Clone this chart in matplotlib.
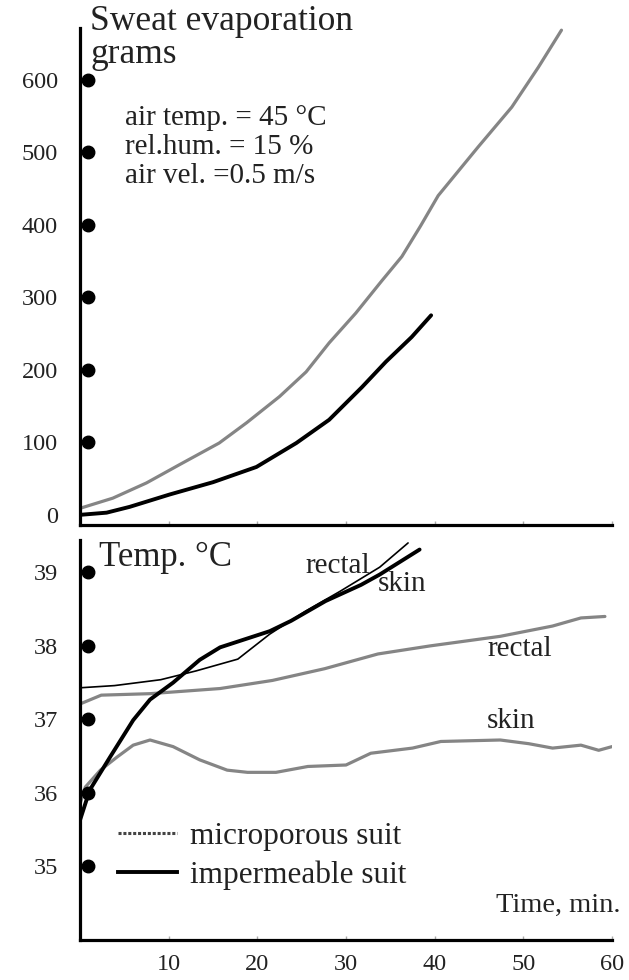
import matplotlib
matplotlib.use("Agg")
import matplotlib.pyplot as plt
from matplotlib.lines import Line2D
import numpy as np

plt.rcParams['font.family'] = ['Liberation Serif', 'DejaVu Serif']

# ---- data: sweat evaporation (grams) ----
t_sweat_micro = [0, 3.7, 7.5, 11.2, 15.7, 18.8, 22.5, 25.5, 28.1, 31.1, 34.0, 36.3, 38.4, 40.4, 44.9, 48.7, 51.7, 54.3]
sweat_micro = [9, 23, 44, 69, 99, 127, 163, 197, 237, 278, 322, 356, 398, 440, 507, 562, 617, 668]
t_sweat_imp = [0, 3, 5.6, 10.1, 15, 19.9, 24.4, 28.1, 31.8, 34.5, 37.4, 39.6]
sweat_imp = [0, 3, 11, 28, 45, 66, 99, 131, 176, 211, 245, 275]

# ---- data: temperatures (deg C) ----
t_rectal_micro = [0, 2.4, 7.9, 15.8, 21.7, 27.6, 33.6, 39.5, 47.4, 53.3, 56.5, 59.2]
rectal_micro = [37.21, 37.33, 37.35, 37.42, 37.53, 37.69, 37.89, 38.00, 38.13, 38.27, 38.38, 38.40]
t_skin_micro = [0, 0.6, 2.3, 4.2, 6.0, 7.9, 10.5, 13.5, 16.6, 18.9, 22.1, 25.7, 30.0, 32.8,
                37.5, 40.7, 47.4, 50.6, 53.3, 56.5, 58.5, 60]
skin_micro = [35.85, 36.08, 36.31, 36.49, 36.65, 36.72, 36.63, 36.45, 36.31, 36.28, 36.28, 36.36,
              36.38, 36.54, 36.61, 36.70, 36.72, 36.67, 36.61, 36.65, 36.58, 36.63]
t_rectal_imp = [0, 3.9, 9.1, 13.1, 17.8, 21.4, 25.4, 29.3, 33.8, 37.0]
rectal_imp = [37.43, 37.46, 37.54, 37.66, 37.82, 38.16, 38.47, 38.74, 39.07, 39.40]
t_skin_imp = [0, 1.1, 3.4, 6.0, 7.9, 10.5, 13.5, 15.8, 21.4, 23.8, 27.7, 31.7, 33.8, 38.3]
skin_imp = [35.63, 36.04, 36.49, 36.99, 37.27, 37.50, 37.81, 37.98, 38.20, 38.34, 38.61, 38.83, 38.97, 39.31]

x_ticks = [10, 20, 30, 40, 50, 60]
sweat_ticks = [0, 100, 200, 300, 400, 500, 600]
sweat_dots = [100, 200, 300, 400, 500, 600]
temp_ticks = [35, 36, 37, 38, 39]

GRAY = '#858585'
TXT = '#222222'
W, H = 629, 980

fig = plt.figure(figsize=(6.29, 9.8), dpi=100)
ax1 = fig.add_axes([80 / W, 1 - 525 / H, 532 / W, 497 / H])
ax2 = fig.add_axes([80 / W, 1 - 940 / H, 532 / W, 400 / H])

for ax in (ax1, ax2):
    for s in ('top', 'right'):
        ax.spines[s].set_visible(False)
    for s in ('left', 'bottom'):
        ax.spines[s].set_linewidth(2.3)
        ax.spines[s].set_color('black')
    ax.set_xlim(0, 60)
    ax.set_xticks(x_ticks)
    ax.tick_params(axis='x', direction='in', length=3, width=1, color='#aaaaaa')
    ax.tick_params(axis='y', length=0, pad=16, labelsize=17.5, labelcolor=TXT)

# top panel
ax1.set_ylim(-14, 671)
ax1.set_yticks(sweat_ticks)
ax1.set_xticklabels([])
ax1.plot(t_sweat_micro, sweat_micro, color=GRAY, lw=2.3, solid_capstyle='round', solid_joinstyle='round')
ax1.plot(t_sweat_imp, sweat_imp, color='black', lw=2.8, solid_capstyle='round', solid_joinstyle='round')
ax1.plot(np.full(len(sweat_dots), 0.015), sweat_dots, 'o', ms=9, color='black',
         transform=ax1.get_yaxis_transform(), clip_on=False)

# bottom panel
ax2.set_ylim(34.0, 39.44)
ax2.set_yticks(temp_ticks)
ax2.tick_params(axis='x', labelsize=17.5, labelcolor=TXT, pad=10)
ax2.plot(t_rectal_micro, rectal_micro, color=GRAY, lw=2.3, solid_capstyle='round', solid_joinstyle='round')
ax2.plot(t_skin_micro, skin_micro, color=GRAY, lw=2.3, solid_capstyle='round', solid_joinstyle='round')
ax2.plot(t_rectal_imp, rectal_imp, color='black', lw=1.2, solid_capstyle='round', solid_joinstyle='round')
ax2.plot(t_skin_imp, skin_imp, color='black', lw=2.8, solid_capstyle='round', solid_joinstyle='round')
ax2.plot(np.full(len(temp_ticks), 0.015), temp_ticks, 'o', ms=9, color='black',
         transform=ax2.get_yaxis_transform(), clip_on=False)

def ftext(px, py, s, size, **kw):
    fig.text(px / W, 1 - py / H, s, fontsize=size, color=TXT, va='baseline', **kw)

ftext(90, 30, 'Sweat evaporation', 25.5)
ftext(90, 63, 'grams', 25.5)
ftext(125, 125, 'air temp. = 45 °C', 21)
ftext(125, 154, 'rel.hum. = 15 %', 21)
ftext(125, 183, 'air vel. =0.5 m/s', 21)
ftext(99, 566, 'Temp. °C', 25)
ftext(305, 573, 'rectal', 21)
ftext(378, 591, 'skin', 21)
ftext(487, 656, 'rectal', 21)
ftext(487, 728, 'skin', 21)
ftext(620, 912, 'Time, min.', 20.5, ha='right')

handles = [Line2D([], [], color='#444444', lw=2.2, linestyle=(0, (1, 0.6))),
           Line2D([], [], color='black', lw=2.8)]
leg = ax2.legend(handles, ['microporous suit', 'impermeable suit'], loc='upper left',
                 bbox_to_anchor=((118 - 80) / 532, (940 - 822) / 400), frameon=False,
                 fontsize=22.5, handlelength=1.9, handletextpad=0.4, borderpad=0,
                 borderaxespad=0, labelspacing=0.3)
for t in leg.get_texts():
    t.set_color(TXT)

fig.savefig('out.png', dpi=100)
